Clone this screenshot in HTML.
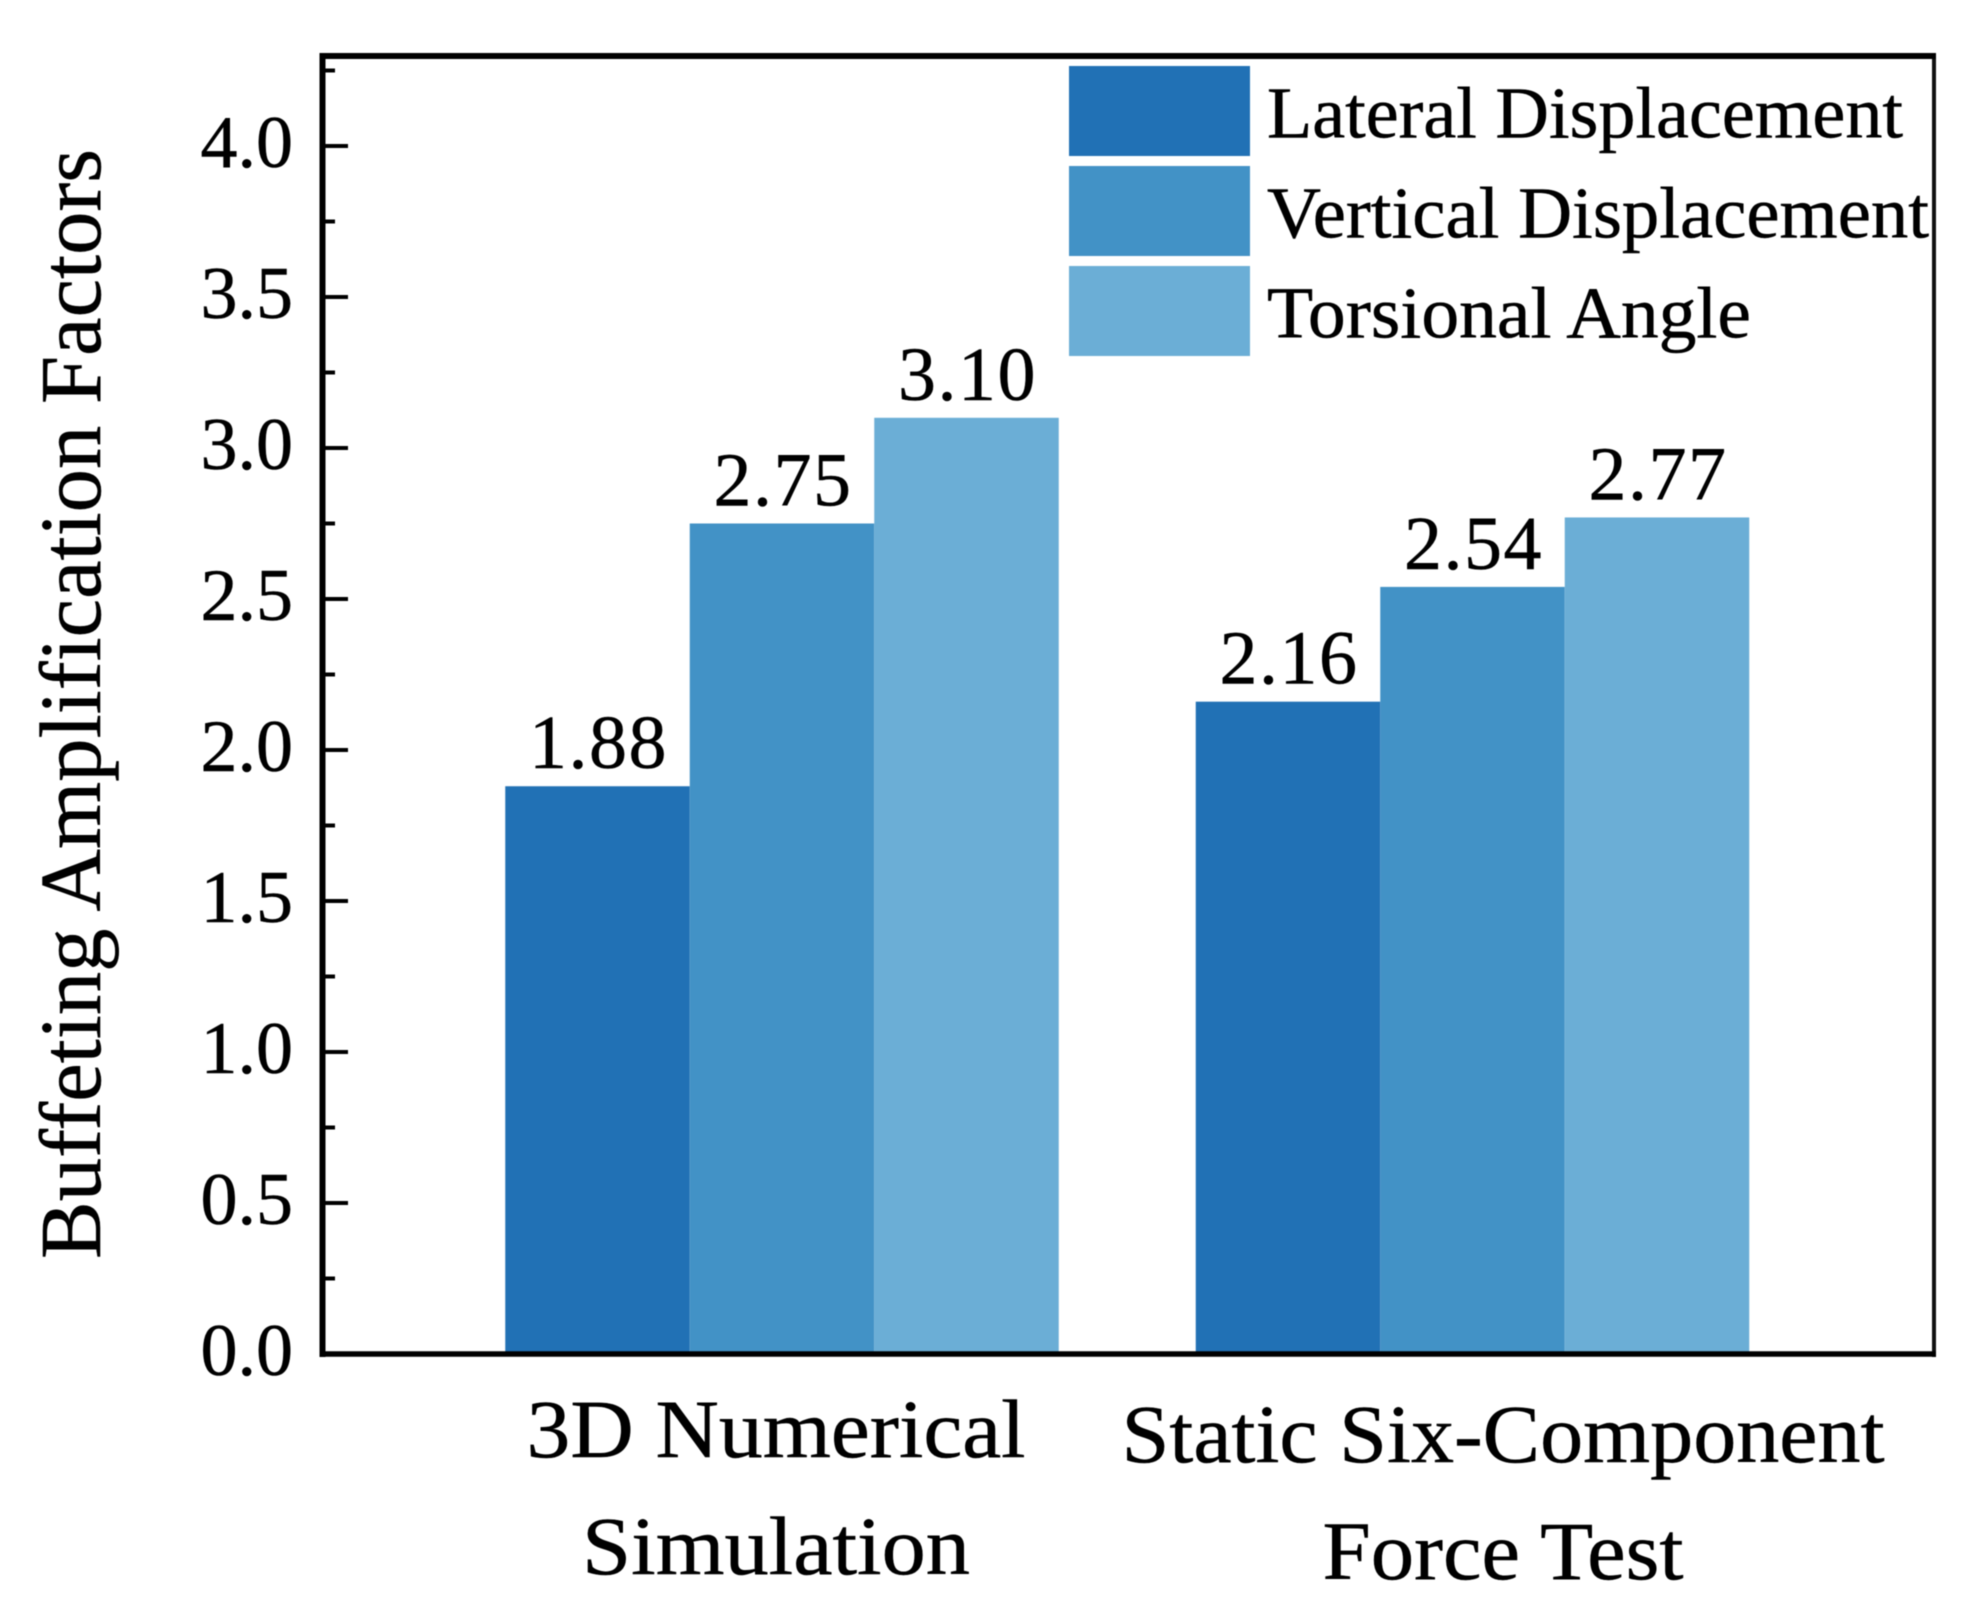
<!DOCTYPE html>
<html lang="en">
<head>
<meta charset="utf-8">
<title>Buffeting Amplification Factors</title>
<style>
  html, body { margin: 0; padding: 0; background: #fff; }
  body { width: 1978px; height: 1620px; overflow: hidden; }
  svg { display: block; filter: blur(0.5px); }
  text { font-family: "Liberation Serif", "Times New Roman", serif; fill: #000; stroke: #000; stroke-width: 0.5px; }
</style>
</head>
<body>
<svg id="chart" xmlns="http://www.w3.org/2000/svg" width="1978" height="1620" viewBox="0 0 1978 1620">
  <rect x="0" y="0" width="1978" height="1620" fill="#fff"/>
  <g id="bars"></g>
  <g id="value-labels"></g>
  <g id="axes"></g>
  <g id="legend"></g>
  <g id="categories"></g>
  <text transform="translate(100 704) rotate(-90)" text-anchor="middle" font-size="87" textLength="1110" lengthAdjust="spacingAndGlyphs">Buffeting Amplification Factors</text>
</svg>
<script>
const categories = ["3D Numerical Simulation", "Static Six-Component Force Test"];
const seriesNames = ["Lateral Displacement", "Vertical Displacement", "Torsional Angle"];
const lateralDisplacement = [1.88, 2.16];
const verticalDisplacement = [2.75, 2.54];
const torsionalAngle = [3.10, 2.77];
const seriesColors = ["#2171b5", "#4292c6", "#6baed6"];
const yTicks = [0, 0.5, 1, 1.5, 2, 2.5, 3, 3.5, 4];
const yTickLabels = ["0.0", "0.5", "1.0", "1.5", "2.0", "2.5", "3.0", "3.5", "4.0"];
const yMinorTicks = [0.25, 0.75, 1.25, 1.75, 2.25, 2.75, 3.25, 3.75, 4.25];

const seriesValues = [lateralDisplacement, verticalDisplacement, torsionalAngle];
const NS = "http://www.w3.org/2000/svg";
const plot = { left: 322.5, right: 1934, top: 56, bottom: 1354 };
const yMax = 4.298;
const groupStart = 782, groupStep = 690.5, barWidth = 184.5;

function y(v) { return plot.bottom - (v / yMax) * (plot.bottom - plot.top); }
function groupX(i) { return groupStart + i * groupStep; }
function barX(i, s) { return groupX(i) + (s - seriesValues.length / 2) * barWidth; }

function make(tag, parent, attrs, content) {
  const el = document.createElementNS(NS, tag);
  for (const k in attrs) el.setAttribute(k, attrs[k]);
  if (content !== undefined) el.textContent = content;
  parent.appendChild(el);
  return el;
}

const barsG = document.getElementById("bars");
const valuesG = document.getElementById("value-labels");
const axesG = document.getElementById("axes");
const legendG = document.getElementById("legend");
const catsG = document.getElementById("categories");

seriesValues.forEach(function (vals, s) {
  vals.forEach(function (v, i) {
    const bar = make("rect", barsG, {
      x: barX(i, s), y: y(v), width: barWidth, height: plot.bottom - y(v), fill: seriesColors[s]
    });
    
    
    const label = make("text", valuesG, {
      x: barX(i, s) + barWidth / 2 + 1, y: y(v) - 18, "text-anchor": "middle", "font-size": 76, "letter-spacing": 1.5
    }, v.toFixed(2));
    
    
  });
});

yMinorTicks.forEach(function (v) {
  const t = make("line", axesG, { x1: plot.left, x2: 335, y1: y(v), y2: y(v), stroke: "#000", "stroke-width": 4 });
  
  
});
yTicks.forEach(function (v, i) {
  const t = make("line", axesG, { x1: plot.left, x2: 348, y1: y(v), y2: y(v), stroke: "#000", "stroke-width": 4 });
  
  
  const l = make("text", axesG, { x: 293, y: y(v) + 21, "text-anchor": "end", "font-size": 74 }, yTickLabels[i]);
  
  
});

const leftAxis = make("line", axesG, { x1: plot.left, x2: plot.left, y1: plot.top - 3, y2: plot.bottom + 3, stroke: "#000", "stroke-width": 6 });


const rightAxis = make("line", axesG, { x1: plot.right, x2: plot.right, y1: plot.top - 3, y2: plot.bottom + 3, stroke: "#111", "stroke-width": 4 });


const topAxis = make("line", axesG, { x1: plot.left - 3, x2: plot.right + 2, y1: plot.top, y2: plot.top, stroke: "#000", "stroke-width": 6 });


const bottomAxis = make("line", axesG, { x1: plot.left - 3, x2: plot.right + 2, y1: plot.bottom, y2: plot.bottom, stroke: "#000", "stroke-width": 5.5 });



const legendTextLengths = [636, 662, 484];
seriesNames.forEach(function (name, s) {
  const sw = make("rect", legendG, { x: 1069, y: 66 + s * 100, width: 181, height: 90, fill: seriesColors[s] });
  
  
  const tx = make("text", legendG, {
    x: 1267, y: 137.5 + s * 100, "font-size": 73, textLength: legendTextLengths[s], lengthAdjust: "spacingAndGlyphs"
  }, name);
  
  
});

const categoryLines = [["3D Numerical", "Simulation"], ["Static Six-Component", "Force Test"]];
const categoryCenters = [776, 1503];
const categoryBaselines = [[1457, 1574], [1462, 1579]];
const categoryWidths = [[499, 388], [763, 361]];
categoryLines.forEach(function (lines, i) {
  lines.forEach(function (line, j) {
    const c = make("text", catsG, {
      x: categoryCenters[i], y: categoryBaselines[i][j], "text-anchor": "middle", "font-size": 83,
      textLength: categoryWidths[i][j], lengthAdjust: "spacingAndGlyphs"
    }, line);
    
    
  });
});
</script>
</body>
</html>
